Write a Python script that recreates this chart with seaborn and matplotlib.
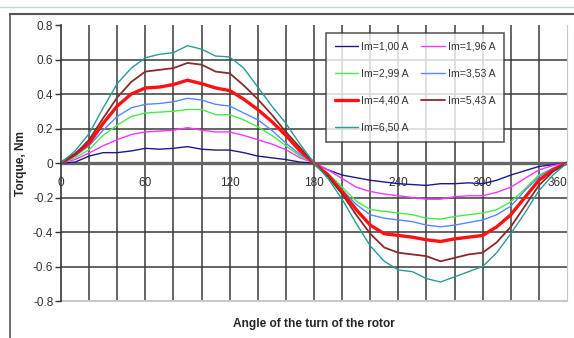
import numpy as np
import pandas as pd
import seaborn as sns
import matplotlib.pyplot as plt
from matplotlib.lines import Line2D

# angle of the rotor, degrees
angle = list(range(0, 361, 10))

# torque readings (Nm) for each magnetising current
im_100 = [0, 0.005, 0.04, 0.06, 0.06, 0.07, 0.085, 0.08, 0.085, 0.095, 0.08, 0.075, 0.075, 0.06, 0.04, 0.03, 0.02, 0.005, 0,
          -0.04, -0.07, -0.085, -0.10, -0.11, -0.12, -0.125, -0.13, -0.12, -0.12, -0.115, -0.12, -0.10, -0.07, -0.045, -0.02, -0.01, 0]
im_196 = [0, 0.02, 0.058, 0.10, 0.135, 0.165, 0.18, 0.185, 0.19, 0.205, 0.19, 0.18, 0.18, 0.16, 0.135, 0.11, 0.077, 0.03, 0,
          -0.04, -0.09, -0.14, -0.165, -0.18, -0.19, -0.2, -0.21, -0.21, -0.195, -0.19, -0.19, -0.17, -0.14, -0.09, -0.04, -0.015, 0]
im_299 = [0, 0.03, 0.077, 0.16, 0.22, 0.27, 0.29, 0.295, 0.30, 0.31, 0.31, 0.28, 0.28, 0.25, 0.21, 0.16, 0.10, 0.04, 0,
          -0.06, -0.14, -0.22, -0.27, -0.28, -0.29, -0.30, -0.32, -0.325, -0.31, -0.30, -0.29, -0.27, -0.225, -0.15, -0.07, -0.03, 0]
im_353 = [0, 0.04, 0.10, 0.19, 0.27, 0.32, 0.34, 0.345, 0.355, 0.375, 0.365, 0.34, 0.33, 0.29, 0.25, 0.19, 0.115, 0.05, 0,
          -0.07, -0.155, -0.24, -0.30, -0.32, -0.33, -0.34, -0.36, -0.37, -0.36, -0.345, -0.33, -0.30, -0.25, -0.16, -0.08, -0.03, 0]
im_440 = [0, 0.05, 0.115, 0.23, 0.33, 0.40, 0.435, 0.44, 0.455, 0.48, 0.46, 0.435, 0.42, 0.37, 0.31, 0.24, 0.16, 0.07, 0,
          -0.07, -0.165, -0.27, -0.36, -0.41, -0.42, -0.43, -0.445, -0.455, -0.44, -0.43, -0.42, -0.37, -0.30, -0.20, -0.10, -0.04, 0]
im_543 = [0, 0.05, 0.135, 0.26, 0.38, 0.47, 0.53, 0.54, 0.55, 0.58, 0.57, 0.53, 0.52, 0.45, 0.37, 0.28, 0.18, 0.09, 0,
          -0.08, -0.18, -0.30, -0.41, -0.49, -0.52, -0.53, -0.54, -0.57, -0.55, -0.53, -0.52, -0.46, -0.37, -0.25, -0.13, -0.05, 0]
im_650 = [0, 0.07, 0.17, 0.32, 0.46, 0.55, 0.61, 0.63, 0.64, 0.68, 0.66, 0.62, 0.615, 0.55, 0.44, 0.33, 0.23, 0.11, 0,
          -0.09, -0.21, -0.35, -0.48, -0.57, -0.62, -0.63, -0.67, -0.69, -0.66, -0.63, -0.60, -0.52, -0.41, -0.29, -0.16, -0.07, 0]

labels = ['Im=1,00 A', 'Im=1,96 A', 'Im=2,99 A', 'Im=3,53 A', 'Im=4,40 A', 'Im=5,43 A', 'Im=6,50 A']
series = [im_100, im_196, im_299, im_353, im_440, im_543, im_650]
colors = ['#1a1a8c', '#ff33ff', '#44ee44', '#5588ff', '#ff1111', '#8b2a2a', '#2a9a9a']
widths = [1.0, 1.0, 1.0, 1.0, 2.4, 1.3, 1.0]

sns.set_style('white')
plt.rcParams['font.family'] = ['Liberation Sans', 'DejaVu Sans']

fig = plt.figure(figsize=(5.74, 3.38), dpi=100)
ax = fig.add_axes([61/574, 1-301/338, 506/574, 276/338])

for vals, lab, c, w in zip(series, labels, colors, widths):
    sns.lineplot(x=angle, y=vals, color=c, lw=w, label=lab, ax=ax)

ax.set_xlim(0, 360)
ax.set_ylim(-0.8, 0.8)

# grid every 20 degrees and 0.2 Nm
for xv in range(20, 360, 20):
    ax.axvline(xv, color='#3a3a3a', lw=1.1, zorder=0)
for yv in [-0.6, -0.4, -0.2, 0.2, 0.4, 0.6]:
    ax.axhline(yv, color='#3a3a3a', lw=1.1, zorder=0)
ax.axhline(0, color='#666666', lw=2.4, zorder=0.5)
ax.axhline(-0.8, color='#c8c8c8', lw=1.5, zorder=0.5, clip_on=False)

# x axis crosses at zero, labels every 60 degrees
ax.spines['bottom'].set_position(('data', 0))
ax.spines['bottom'].set_visible(False)
ax.set_xticks(range(0, 361, 20))
ax.set_xticklabels([str(v) if v % 60 == 0 else '' for v in range(0, 361, 20)])
ax.set_yticks(np.arange(-0.8, 0.81, 0.2))
ax.set_yticklabels(['-0.8', '-0.6', '-0.4', '-0.2', '0', '0.2', '0.4', '0.6', '0.8'])
ax.tick_params(axis='x', length=0, pad=10, labelsize=8.5, colors='#333333')
ax.tick_params(axis='y', length=4, width=1, pad=1.5, labelsize=8.5, colors='#333333', left=True)
ax.get_xticklabels()[-1].set_horizontalalignment('right')

ax.spines['top'].set_visible(False)
ax.spines['left'].set_color('#333333')
ax.spines['left'].set_linewidth(1.2)
ax.spines['right'].set_color('#c8c8c8')

ax.set_xlabel('Angle of the turn of the rotor', fontsize=8.6, fontweight='bold')
ax.xaxis.set_label_coords(0.5, -0.06)
ax.set_ylabel('Torque, Nm', fontsize=8.6, fontweight='bold')
ax.yaxis.set_label_coords(-0.068, 0.5)

# legend filled row by row like the original
h, l = ax.get_legend_handles_labels()
order = [0, 2, 4, 6, 1, 3, 5]
leg = ax.legend([h[i] for i in order], [l[i] for i in order], ncol=2, loc='upper left',
                bbox_to_anchor=(0.523, 0.971), fontsize=7.6,
                labelspacing=1.6, handlelength=2.2, handletextpad=0.3, columnspacing=1.2,
                borderpad=0.85, borderaxespad=0, frameon=True, fancybox=False)
leg.get_frame().set_edgecolor('#333333')
leg.get_frame().set_linewidth(1.2)
for t in leg.get_texts():
    t.set_color('#333333')

# outer chart frame lines
fig.add_artist(Line2D([0, 1], [1-7/338, 1-7/338], color='#bcd8dc', lw=1))
fig.add_artist(Line2D([10/574, 1], [1-14/338, 1-14/338], color='#555555', lw=1.5))
fig.add_artist(Line2D([10/574, 10/574], [0, 1-14/338], color='#555555', lw=1.2))

fig.savefig('out.png', dpi=100)
